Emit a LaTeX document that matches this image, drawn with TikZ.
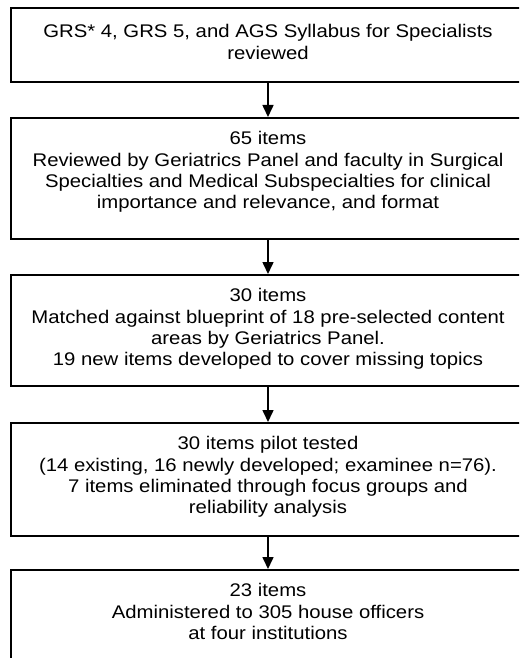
\documentclass[tikz,border=0pt]{standalone}
\usepackage{fontspec}
\setmainfont{Liberation Sans}[FakeStretch=1.11]
\usetikzlibrary{arrows.meta}
\tikzset{
  box/.style={draw=black, line width=1.8pt, minimum width=514pt, anchor=north, inner sep=0pt},
  txt/.style={anchor=north, align=center, inner sep=0pt, font=\fontsize{18.3pt}{21.3pt}\selectfont},
  arr/.style={line width=1.6pt, -{Triangle[width=11pt,length=12pt]}}
}
\begin{document}
\begin{tikzpicture}[x=1pt,y=1pt]
\useasboundingbox (0,0) rectangle (519,-658);
\clip (0,0) rectangle (519,-658);
\node[box, minimum height=74pt] (b1) at (268,-7) {};
\node[box, minimum height=121pt] (b2) at (268,-117) {};
\node[box, minimum height=111pt] (b3) at (268,-274) {};
\node[box, minimum height=113pt] (b4) at (268,-422) {};
\node[box, minimum height=130pt] (b5) at (268,-569) {};
\node[txt] (t1) at (268,-24.5) {GRS* 4, GRS 5, and AGS Syllabus for Specialists\\reviewed};
\node[txt] (t2) at (268,-131.5) {65 items\\Reviewed by Geriatrics Panel and faculty in Surgical\\Specialties and Medical Subspecialties for clinical\\importance and relevance, and format};
\node[txt] (t3) at (268,-288.5) {30 items\\Matched against blueprint of 18 pre-selected content\\areas by Geriatrics Panel.\\19 new items developed to cover missing topics};
\node[txt] (t4) at (268,-436.5) {30 items pilot tested\\(14 existing, 16 newly developed; examinee n=76).\\7 items eliminated through focus groups and\\reliability analysis};
\node[txt] (t5) at (268,-583.5) {23 items\\Administered to 305 house officers\\at four institutions};
\draw[arr] (b1.south) -- (b2.north);
\draw[arr] (b2.south) -- (b3.north);
\draw[arr] (b3.south) -- (b4.north);
\draw[arr] (b4.south) -- (b5.north);
\end{tikzpicture}
\end{document}
